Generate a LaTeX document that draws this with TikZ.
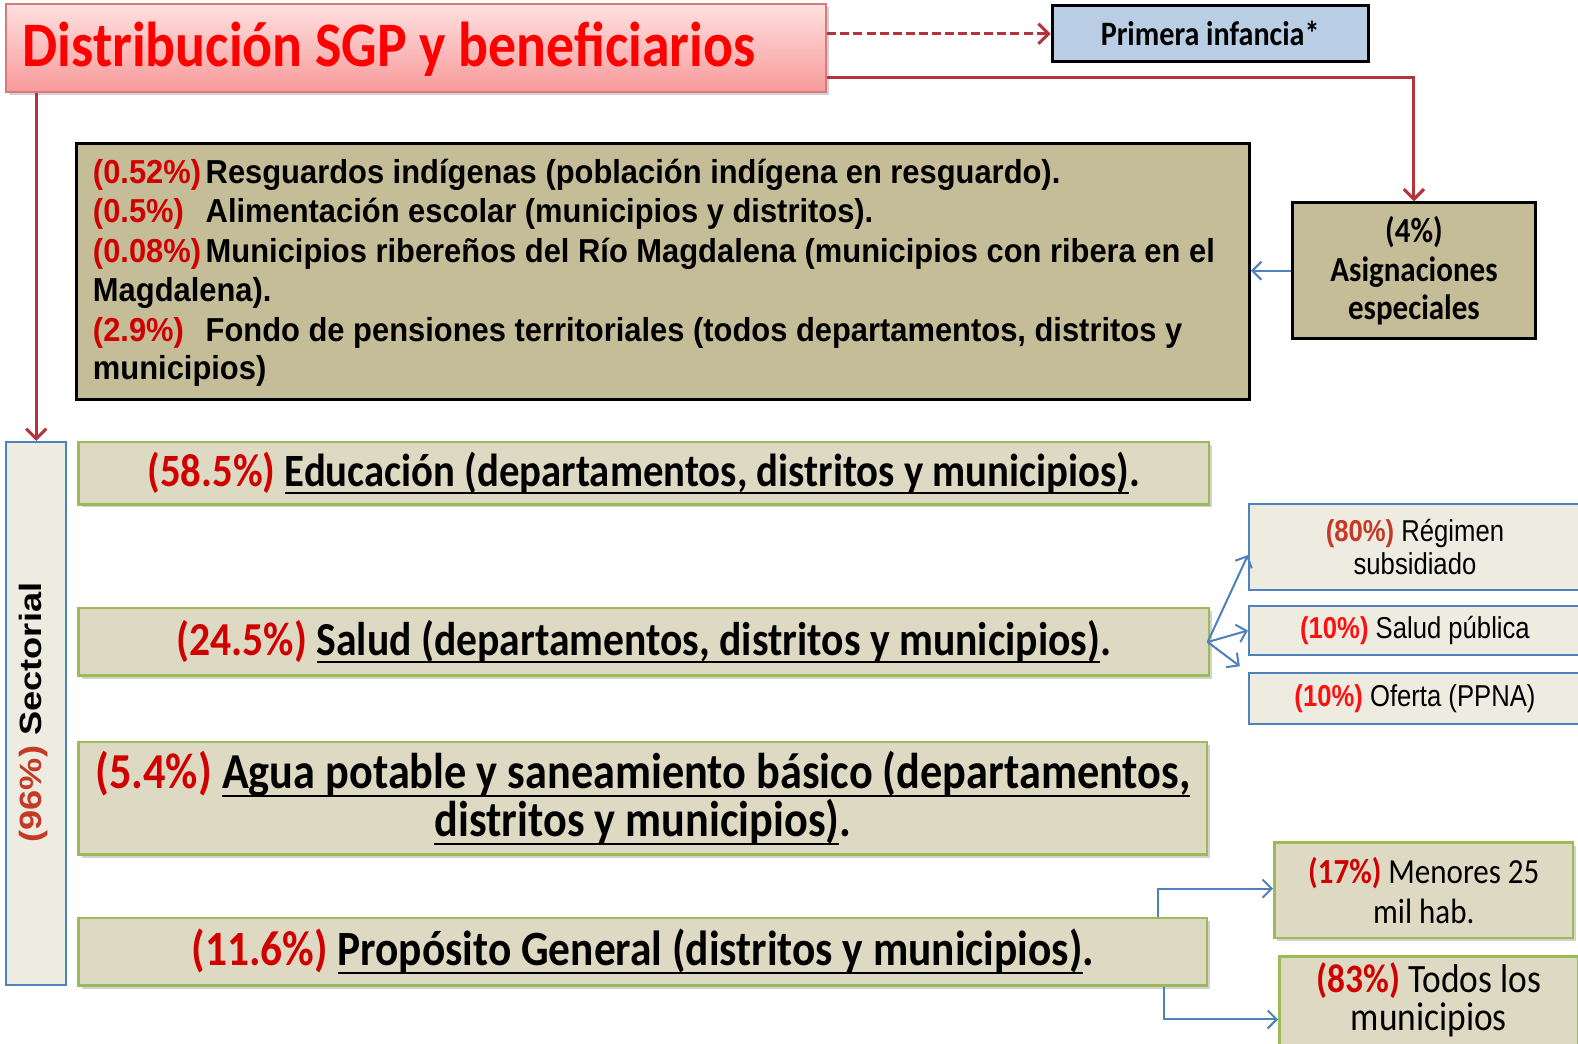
\documentclass[tikz,border=0pt]{standalone}
\usepackage{fontspec}
\setmainfont{Carlito}[FakeStretch=0.88]
\newfontfamily\arialf{Liberation Sans}[FakeStretch=0.85]
\newfontfamily\arialw{Liberation Sans}[FakeStretch=0.93]
\newfontfamily\arialn{Liberation Sans}
\newcommand\myul[1]{\setbox0\hbox{#1}\rlap{\rule[-0.17em]{\wd0}{1pt}}\box0}
\usetikzlibrary{arrows.meta,shadows}
\newlength\px \setlength\px{0.5pt}
\newcommand\fsz[2]{\fontsize{#1}{#2}\selectfont}
\definecolor{tred}{HTML}{FF0000}
\definecolor{conred}{HTML}{B5333A}
\definecolor{pinkA}{HTML}{FFE0E0}
\definecolor{pinkB}{HTML}{F89A9A}
\definecolor{pinkD}{HTML}{D77A7C}
\definecolor{piblue}{HTML}{B9CDE5}
\definecolor{tanf}{HTML}{C4BD97}
\definecolor{sectfill}{HTML}{DDD9C3}
\definecolor{sectline}{HTML}{9BBB59}
\definecolor{lightfill}{HTML}{EEECE1}
\definecolor{blueline}{HTML}{4F81BD}
\definecolor{pcred}{HTML}{D00000}
\definecolor{pcbright}{HTML}{FF1010}
\definecolor{pcbrown}{HTML}{C43A26}
\newcommand\pcbox[1]{\makebox[112\px][l]{\textcolor{pcred}{#1}}}
\tikzset{
  softshadow/.style={drop shadow={shadow xshift=1.5pt, shadow yshift=-1.5pt, opacity=0.25, fill=black!70}},
  titlebox/.style={draw=pinkD, line width=1pt, top color=pinkA, bottom color=pinkB, softshadow},
  kbox/.style={draw=black, line width=1.5pt},
  tanbox/.style={kbox, fill=tanf},
  sectbox/.style={draw=sectline, line width=1.25pt, fill=sectfill, softshadow},
  lightbox/.style={draw=blueline, line width=1pt, fill=lightfill},
  redcon/.style={draw=conred, line width=1.5pt, -{Straight Barb[length=5pt,width=10pt]}},
  bluecon/.style={draw=blueline, line width=1pt, -{Straight Barb[length=4.5pt,width=9pt]}},
  ln/.style={anchor=base west, inner sep=0pt, font=\arialw\bfseries\fsz{16.5}{19.5}},
  nw/.style={anchor=north west}
}
\begin{document}
\begin{tikzpicture}[x=0.5pt, y=-0.5pt]
\path[fill=white, use as bounding box] (0,0) rectangle (1568,1037);

% title
\node[titlebox, nw, minimum width=407.5pt, minimum height=43.5pt] (title) at (5,3) {};
\node[anchor=base west, inner sep=0pt, text=tred, font=\bfseries\fsz{31.5}{36}] (titletxt) at (22,66) {Distribución SGP y beneficiarios};

% primera infancia
\node[kbox, fill=piblue, nw, minimum width=157pt, minimum height=28pt, font=\bfseries\fsz{17}{20}] (pinf) at (1044,4) {Primera infancia*};

% asignaciones especiales
\node[tanbox, nw, minimum width=120.5pt, minimum height=67.5pt, align=center, font=\bfseries\fsz{17.5}{19}] (asig) at (1283,200) {(4\%)\\Asignaciones\\especiales};

% big box
\node[tanbox, nw, minimum width=582.5pt, minimum height=127pt] (esp) at (75,141) {};
\node[ln] (e1) at (92,182) {\pcbox{(0.52\%)}Resguardos indígenas (población indígena en resguardo).};
\node[ln] (e2) at (92,221) {\pcbox{(0.5\%)}Alimentación escolar (municipios y distritos).};
\node[ln] (e3) at (92,261) {\pcbox{(0.08\%)}Municipios ribereños del Río Magdalena (municipios con ribera en el};
\node[ln] (e4) at (92,300) {Magdalena).};
\node[ln] (e5) at (92,339) {\pcbox{(2.9\%)}Fondo de pensiones territoriales (todos departamentos, distritos y};
\node[ln] (e6) at (92,377) {municipios)};

% sectorial
\node[lightbox, nw, minimum width=30pt, minimum height=270pt] (sect) at (5,438) {};
\node[rotate=90, inner sep=0pt, font=\arialn\bfseries\fsz{18}{20}] (secttxt) at (33,708) {\scalebox{1}[0.85]{\textcolor{pcbrown}{(96\%)} Sectorial}};

% sector boxes
\node[sectbox, nw, minimum width=561.5pt, minimum height=31pt, font=\bfseries\fsz{23}{26}] (edu) at (77,438)
  {\textcolor{pcred}{(58.5\%)} \myul{Educación (departamentos, distritos y municipios)}.};
\node[sectbox, nw, minimum width=561.5pt, minimum height=33.5pt, font=\bfseries\fsz{23.5}{26}] (salud) at (77,603)
  {\textcolor{pcred}{(24.5\%)} \myul{Salud (departamentos, distritos y municipios)}.};
\node[sectbox, nw, minimum width=560.5pt, minimum height=56pt, align=center, font=\bfseries\fsz{25}{22.5}] (agua) at (77,736)
  {\textcolor{pcred}{(5.4\%)} \myul{Agua potable y saneamiento básico (departamentos,}\\\myul{distritos y municipios)}.};
\node[sectbox, nw, minimum width=560.5pt, minimum height=33.5pt, font=\bfseries\fsz{24.5}{26}] (prop) at (77,911)
  {\textcolor{pcred}{(11.6\%)} \myul{Propósito General (distritos y municipios)}.};

% salud sub-boxes
\node[lightbox, nw, minimum width=165pt, minimum height=42.5pt, align=center, font=\arialf\fsz{15}{16}] (reg) at (1240,500)
  {\textcolor{pcbrown}{\bfseries(80\%)} Régimen\\subsidiado};
\node[lightbox, nw, minimum width=165pt, minimum height=24.5pt, font=\arialf\fsz{15}{16}] (spub) at (1240,601)
  {\textcolor{pcbright}{\bfseries(10\%)} Salud pública};
\node[lightbox, nw, minimum width=165pt, minimum height=25pt, font=\arialf\fsz{15}{16}] (ofer) at (1240,668)
  {\textcolor{pcbright}{\bfseries(10\%)} Oferta (PPNA)};

% proposito sub-boxes
\node[sectbox, nw, minimum width=148.5pt, minimum height=47.5pt, align=center, font=\fsz{17.5}{20}] (meno) at (1265,836)
  {\textcolor{pcred}{\bfseries(17\%)} Menores 25\\mil hab.};
\node[sectbox, nw, minimum width=148.5pt, minimum height=64pt, align=center, font=\fsz{20}{18.5}] (todos) at (1270,949)
  {\textcolor{pcred}{\bfseries(83\%)} Todos los\\municipios\\[7pt]\strut};

% connectors
\draw[redcon, dash pattern=on 4.5pt off 2pt] (title.east |- pinf.west) -- (pinf.west);
\draw[redcon] (title.east |- 0,77) -| (asig.north);
\draw[redcon] (title.south -| sect.north) -- (sect.north);
\draw[bluecon] (asig.west) -- (asig.west -| esp.east);
\coordinate (sout) at (1200,638);
\draw[bluecon] (sout) -- ([yshift=-4pt]reg.west);
\draw[bluecon] (sout) -- (spub.west);
\draw[bluecon] (sout) -- ([xshift=-4pt,yshift=3pt]ofer.north west);
\draw[bluecon] (prop.north -| 1151,0) |- (meno.west |- 0,883);
\draw[bluecon] (prop.south -| 1157,0) |- (todos.west |- 0,1013);
\end{tikzpicture}
\end{document}
